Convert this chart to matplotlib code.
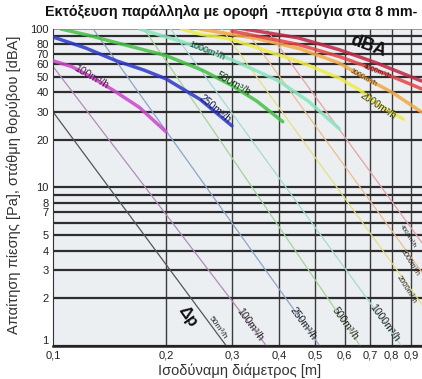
import numpy as np
import matplotlib
matplotlib.use('Agg')
import matplotlib.pyplot as plt

plt.rcParams['font.family'] = ['Liberation Sans', 'DejaVu Sans']

# noise curves [dBA] vs equivalent diameter [m]
noise_x = {
    '100': [0.1, 0.112, 0.126, 0.145, 0.17, 0.2],
    '250': [0.1, 0.122, 0.1475, 0.175, 0.2, 0.2466, 0.3],
    '500': [0.105, 0.125, 0.1475, 0.2, 0.25, 0.3, 0.35, 0.41],
    '1000': [0.17, 0.218, 0.257, 0.3, 0.4, 0.48, 0.58],
    '2000': [0.22, 0.246, 0.3, 0.456, 0.58, 0.66, 0.74, 0.86],
    '3000': [0.246, 0.35, 0.456, 0.58, 0.67, 0.8, 0.96],
    '4000': [0.3, 0.45, 0.58, 0.73, 0.96],
    '4000b': [0.3, 0.45, 0.58, 0.73, 0.96],
}
noise_y = {
    '100': [63, 58, 50, 41, 32, 22.5],
    '250': [89, 76, 63, 55, 48.5, 36, 24.5],
    '500': [100, 91, 82, 68, 55, 44, 35, 26],
    '1000': [100, 84, 73, 64, 47, 35, 23.5],
    '2000': [100, 93, 86, 62, 49, 41, 33, 27],
    '3000': [100, 87, 75, 61, 50, 40, 30],
    '4000': [97, 80, 67, 55, 42],
    '4000b': [103, 88, 74, 61, 47],
}
noise_col = {'100': '#cc44cc', '250': '#2a36cc', '500': '#44c044', '1000': '#86e6bc',
             '2000': '#ecec44', '3000': '#f2a842', '4000': '#e44444', '4000b': '#bc2642'}

# pressure drop lines [Pa]: (x, y) at top and at bottom
dp_names = ['50', '100', '250', '500', '1000', '2000', '3000', '4000']
dp_x = [[0.1, 0.29], [0.1, 0.371], [0.128, 0.515], [0.175, 0.66],
        [0.206, 0.85], [0.282, 1.16], [0.325, 1.34], [0.37, 1.53]]
dp_y = [[30, 1], [58, 1], [100, 1], [100, 1], [100, 1], [100, 1], [100, 1], [100, 1]]
dp_col = ['#555555', '#b08cb8', '#8aa4cc', '#a4d494', '#a0dcd4', '#e4e07c', '#f0bc88', '#e8a0a4']

x_ticks = [0.1, 0.2, 0.3, 0.4, 0.5, 0.6, 0.7, 0.8, 0.9]
x_labels = ['0,1', '0,2', '0,3', '0,4', '0,5', '0,6', '0,7', '0,8', '0,9']
y_ticks = [1, 2, 3, 4, 5, 7, 8, 10, 20, 30, 40, 50, 60, 70, 80, 100]
y_minor = [6, 9, 90]

fig = plt.figure(figsize=(4.22, 3.79), dpi=100)
ax = fig.add_axes([0.1256, 0.0871, 0.8744, 0.8364])
ax.set_facecolor('#eceff2')
ax.set_xscale('log')
ax.set_yscale('log')
ax.set_xlim(0.1, 0.964)
ax.set_ylim(1, 100)

# grid
for v in x_ticks[1:]:
    ax.axvline(v, color='#3a3a3a', lw=1.0, zorder=1)
for h in y_ticks + y_minor:
    if h == 100:
        ax.axhline(h, color='#888888', lw=0.6, zorder=1)
    else:
        ax.axhline(h, color='#2e2e2e', lw=1.6, zorder=1)

for i, n in enumerate(dp_names):
    ax.plot(dp_x[i], dp_y[i], color=dp_col[i], lw=0.9, zorder=2)

for k in noise_x:
    ax.plot(noise_x[k], noise_y[k], color=noise_col[k], lw=2.5, alpha=0.85,
            solid_capstyle='round', zorder=3)

ax.set_xticks(x_ticks)
ax.set_xticklabels(x_labels)
ax.set_xticks([], minor=True)
ax.set_yticks(y_ticks)
ax.set_yticklabels([str(t) for t in y_ticks])
ax.set_yticks([], minor=True)
ax.tick_params(length=0, labelsize=8, colors='#222222', pad=3)
ax.get_yticklabels()[0].set_va('bottom')
for s in ['top', 'right']:
    ax.spines[s].set_visible(False)
ax.spines['left'].set_color('#333333')
ax.spines['bottom'].set_color('#222222')
ax.spines['bottom'].set_linewidth(1.8)

# curve labels
kw = dict(ha='center', va='center', rotation_mode='anchor', zorder=5)
ax.text(0.1263, 49.7, '100m³/h', rotation=-30, fontsize=7.5, color='#4a1848', **kw)
ax.text(0.27, 31.2, '250m³/h', rotation=-40, fontsize=7.5, color='#141e50', **kw)
ax.text(0.302, 44.9, '500m³/h', rotation=-30, fontsize=7.5, color='#143c14', **kw)
ax.text(0.257, 72.6, '1000m³/h', rotation=-22, fontsize=6.5, color='#1c4038', **kw)
ax.text(0.736, 32.6, '2000m³/h', rotation=-34, fontsize=7, color='#3c3c10', **kw)
ax.text(0.671, 49, '3000m³/h', rotation=-29, fontsize=5, color='#4a2a08', **kw)
ax.text(0.731, 53.4, '4000m³/h', rotation=-21, fontsize=5, color='#4a1010', **kw)
ax.text(0.691, 78, 'dBA', rotation=-20, fontsize=13, fontweight='bold', color='#111111', **kw)

ax.text(0.229, 1.53, 'Δp', rotation=-55, fontsize=12, fontweight='bold', color='#111111', **kw)
ax.text(0.2755, 1.3, '50m³/h', rotation=-54, fontsize=6, color='#222222', **kw)
ax.text(0.335, 1.36, '100m³/h', rotation=-54, fontsize=7.5, color='#222222', **kw)
ax.text(0.464, 1.39, '250m³/h', rotation=-54, fontsize=7.5, color='#222222', **kw)
ax.text(0.6, 1.39, '500m³/h', rotation=-54, fontsize=7.5, color='#222222', **kw)
ax.text(0.768, 1.39, '1000m³/h', rotation=-54, fontsize=7.5, color='#222222', **kw)
ax.text(0.874, 2.26, '2000m³/h', rotation=-58, fontsize=5.5, color='#222222', **kw)
ax.text(0.895, 3.35, '3000m³/h', rotation=-58, fontsize=5, color='#222222', **kw)
ax.text(0.885, 4.9, '4000m³/h', rotation=-58, fontsize=4.5, color='#222222', **kw)

fig.text(0.548, 0.968, 'Εκτόξευση παράλληλα με οροφή  -πτερύγια στα 8 mm-',
         ha='center', va='center', fontsize=10.3, fontweight='bold', color='#111111')
fig.text(0.033, 0.512, 'Απαίτηση πίεσης [Pa], στάθμη θορύβου [dBA]', rotation=90,
         ha='center', va='center', fontsize=10.5, color='#333333')
fig.text(0.568, 0.021, 'Ισοδύναμη διάμετρος [m]', ha='center', va='center',
         fontsize=10.5, color='#333333')

fig.savefig('out.png', dpi=100)
